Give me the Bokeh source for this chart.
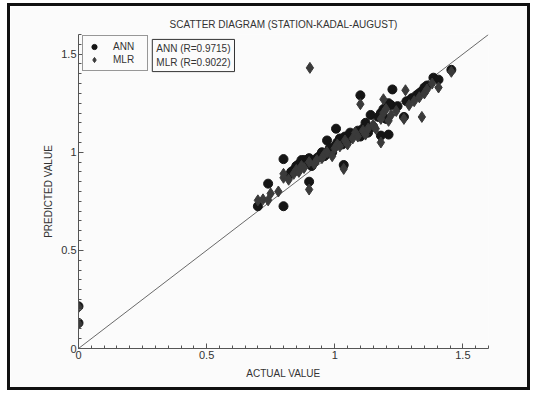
from bokeh.plotting import figure
from bokeh.models import (Legend, LegendItem, Label, SingleIntervalTicker, Range1d)
from bokeh.embed import file_html
from bokeh.resources import INLINE

# ANN predictions (actual, predicted)
ann_actual = [0.0, 0.0, 0.70, 0.74, 0.80, 0.80, 0.82, 0.83, 0.84, 0.85, 0.86, 0.87, 0.88, 0.89,
              0.90, 0.90, 0.91, 0.92, 0.93, 0.94, 0.95, 0.96, 0.97, 0.98, 0.99, 1.00, 1.005,
              1.01, 1.02, 1.03, 1.035, 1.04, 1.05, 1.06, 1.08, 1.09, 1.10, 1.10, 1.11, 1.12,
              1.13, 1.14, 1.15, 1.17, 1.18, 1.18, 1.19, 1.20, 1.21, 1.21, 1.22, 1.225, 1.245,
              1.27, 1.28, 1.30, 1.32, 1.33, 1.34, 1.35, 1.36, 1.385, 1.405, 1.455]
ann_pred = [0.215, 0.13, 0.725, 0.84, 0.725, 0.965, 0.88, 0.90, 0.91, 0.93, 0.94, 0.96, 0.96, 0.95,
            0.97, 0.85, 0.93, 0.95, 0.97, 0.98, 1.00, 0.98, 1.06, 1.02, 1.00, 1.03, 1.12,
            1.05, 1.07, 1.04, 0.935, 1.08, 1.06, 1.10, 1.09, 1.11, 1.08, 1.29, 1.12, 1.15,
            1.10, 1.19, 1.13, 1.18, 1.085, 1.20, 1.22, 1.17, 1.09, 1.25, 1.24, 1.32, 1.235,
            1.18, 1.26, 1.275, 1.29, 1.30, 1.31, 1.33, 1.34, 1.38, 1.37, 1.42]

# MLR predictions (actual, predicted)
mlr_actual = [0.0, 0.0, 0.70, 0.72, 0.74, 0.75, 0.78, 0.80, 0.80, 0.82, 0.84, 0.85, 0.86, 0.87,
              0.88, 0.90, 0.90, 0.903, 0.92, 0.93, 0.95, 0.96, 0.97, 0.99, 1.00, 1.01, 1.02,
              1.035, 1.04, 1.05, 1.07, 1.08, 1.09, 1.10, 1.11, 1.12, 1.13, 1.15, 1.16, 1.18,
              1.18, 1.19, 1.19, 1.20, 1.21, 1.22, 1.24, 1.27, 1.276, 1.29, 1.31, 1.33, 1.34,
              1.35, 1.36, 1.38, 1.405, 1.455]
mlr_pred = [0.21, 0.125, 0.755, 0.76, 0.755, 0.79, 0.80, 0.87, 0.89, 0.86, 0.89, 0.91, 0.90, 0.93,
            0.92, 0.81, 0.95, 1.43, 0.94, 0.96, 0.97, 0.99, 1.00, 0.98, 1.02, 1.04, 1.03,
            0.915, 1.06, 1.04, 1.07, 1.10, 1.08, 1.245, 1.11, 1.09, 1.12, 1.14, 1.12, 1.05,
            1.17, 1.27, 1.20, 1.22, 1.16, 1.19, 1.21, 1.17, 1.316, 1.24, 1.26, 1.28, 1.18,
            1.30, 1.32, 1.35, 1.33, 1.41]

line_x = [0.0, 1.6]
line_y = [0.0, 1.6]

title_text = "SCATTER DIAGRAM (STATION-KADAL-AUGUST)"
r_text = "ANN (R=0.9715)\nMLR (R=0.9022)"

FONT = "Liberation Sans"
TXT = "#333333"

p = figure(width=517, height=381, output_backend="svg", toolbar_location=None,
           x_range=Range1d(0, 1.6), y_range=Range1d(0, 1.6),
           min_border_left=68, min_border_right=45, min_border_top=28, min_border_bottom=45)
p.styles = {"border": "3px solid #111", "box-sizing": "content-box",
            "margin-left": "7px", "margin-top": "3px"}

p.background_fill_color = "#fbfbfb"
p.border_fill_color = "#fbfbfb"
p.outline_line_color = None
p.grid.visible = False

p.title.text = title_text
p.title.align = "center"
p.title.text_font = FONT
p.title.text_font_size = "10px"
p.title.text_font_style = "normal"
p.title.text_color = TXT
p.title.offset = 0

for ax in (p.xaxis[0], p.yaxis[0]):
    ax.ticker = SingleIntervalTicker(interval=0.5, num_minor_ticks=10)
    ax.major_tick_in = 5
    ax.major_tick_out = 0
    ax.minor_tick_in = 3
    ax.minor_tick_out = 0
    ax.axis_line_color = "#555555"
    ax.major_tick_line_color = "#555555"
    ax.minor_tick_line_color = "#555555"
    ax.major_label_text_font = FONT
    ax.major_label_text_font_size = "11px"
    ax.major_label_text_color = TXT
    ax.axis_label_text_font = FONT
    ax.axis_label_text_font_size = "10px"
    ax.axis_label_text_font_style = "normal"
    ax.axis_label_text_color = TXT
p.xaxis.axis_label = "ACTUAL VALUE"
p.yaxis.axis_label = "PREDICTED VALUE"
p.xaxis.major_label_standoff = 2
p.yaxis.major_label_standoff = 2
p.xaxis.axis_label_standoff = 6
p.yaxis.axis_label_standoff = 4
p.yaxis.major_label_orientation = "horizontal"

p.line(line_x, line_y, line_color="#444444", line_width=0.8)

r_ann = p.scatter(ann_actual, ann_pred, marker="circle", size=9,
                  fill_color="#151515", line_color="#151515")
r_mlr = p.scatter(mlr_actual, mlr_pred, marker="diamond", size=11,
                  fill_color="#3a3a3a", line_color="#3a3a3a")

legend = Legend(items=[LegendItem(label="ANN", renderers=[r_ann]),
                       LegendItem(label="MLR", renderers=[r_mlr])],
                location=(4, 277), orientation="vertical",
                label_text_font=FONT, label_text_font_size="10px", label_text_color=TXT,
                glyph_width=14, glyph_height=13, label_height=13, label_width=30,
                spacing=0, padding=4, margin=0, label_standoff=12,
                border_line_color="#333333", border_line_width=1,
                background_fill_color="#fbfbfb", background_fill_alpha=1)
p.add_layout(legend, "center")

lbl = Label(x=0.288, y=1.575, text=r_text, anchor="top_left",
            text_font=FONT, text_font_size="10px", text_color=TXT,
            border_line_color="#333333", border_line_width=1,
            background_fill_color="#fbfbfb", padding=4)
p.add_layout(lbl)

open("out.html", "w").write(file_html(p, INLINE))
